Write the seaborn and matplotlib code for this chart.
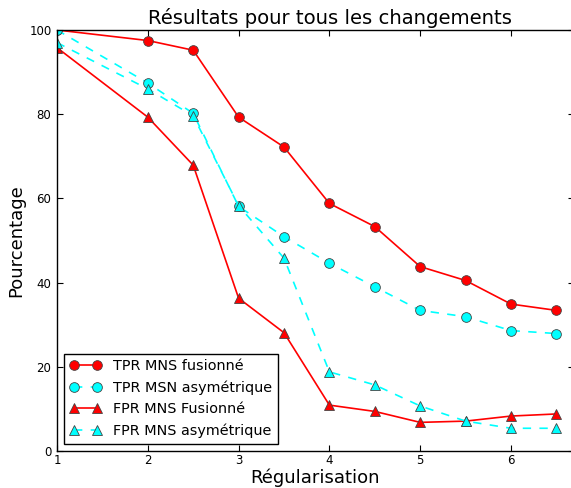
import numpy as np
import seaborn as sns
import matplotlib
matplotlib.use('Agg')
import matplotlib.pyplot as plt

# Data
regularisation = [1, 2, 2.5, 3, 3.5, 4, 4.5, 5, 5.5, 6, 6.5]
tpr_fusionne = [100, 97.5, 95.2, 79.3, 72.2, 58.8, 53.3, 43.8, 40.5, 34.9, 33.4]
tpr_asym = [100, 87.4, 80.2, 58.1, 50.9, 44.6, 39.0, 33.4, 31.9, 28.6, 27.9]
fpr_fusionne = [95.8, 79.3, 67.9, 36.3, 28.1, 10.9, 9.4, 6.8, 7.1, 8.3, 8.8]
fpr_asym = [97.0, 86.0, 79.6, 58.3, 45.8, 18.8, 15.7, 10.7, 7.1, 5.4, 5.4]

labels = ['TPR MNS fusionné', 'TPR MSN asymétrique',
          'FPR MNS Fusionné', 'FPR MNS asymétrique']

plt.rcParams.update({
    'font.family': 'DejaVu Sans',
    'font.size': 8.5,
    'xtick.direction': 'in',
    'ytick.direction': 'in',
    'xtick.top': True,
    'ytick.right': True,
    'xtick.major.size': 4,
    'ytick.major.size': 4,
    'xtick.major.pad': 2,
    'ytick.major.pad': 4,
    'axes.linewidth': 1.0,
})

fig = plt.figure(figsize=(5.71, 4.88), dpi=100)
ax = fig.add_axes([57 / 571, 37 / 488, 517 / 571, 421 / 488])

common = dict(markersize=7, markeredgecolor='#444444', markeredgewidth=0.6,
              linewidth=1.2, ax=ax)
sns.lineplot(x=regularisation, y=tpr_fusionne, color='red', marker='o',
             linestyle='-', label=labels[0], **common)
sns.lineplot(x=regularisation, y=tpr_asym, color='cyan', marker='o',
             linestyle=(0, (5, 5)), label=labels[1], **common)
sns.lineplot(x=regularisation, y=fpr_fusionne, color='red', marker='^',
             linestyle='-', label=labels[2], **common)
sns.lineplot(x=regularisation, y=fpr_asym, color='cyan', marker='^',
             linestyle=(0, (5, 5)), label=labels[3], **common)

ax.set_xlim(1, 6.694)
ax.set_ylim(0, 100)
ax.set_xticks([1, 2, 3, 4, 5, 6])
ax.set_yticks([0, 20, 40, 60, 80, 100])
for sp in ax.spines.values():
    sp.set_color('black')

ax.set_title('Résultats pour tous les changements', fontsize=14.1, x=0.528,
             pad=4)
ax.set_xlabel('Régularisation', fontsize=13, labelpad=1)
ax.set_ylabel('Pourcentage', fontsize=13, labelpad=3)

leg = ax.legend(loc='lower left', numpoints=2, fontsize=10.4, fancybox=False,
                edgecolor='black', framealpha=1, borderaxespad=0.5,
                handlelength=2.2)
leg.get_frame().set_linewidth(1.0)

fig.savefig('out.png', dpi=100)
